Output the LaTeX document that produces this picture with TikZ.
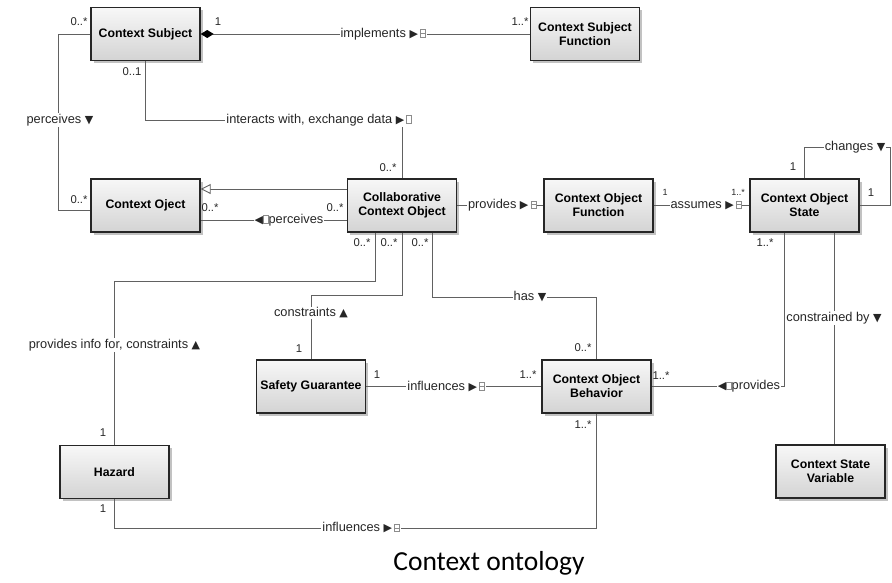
\documentclass[tikz,border=0pt]{standalone}
\usepackage{fontspec}
\setmainfont{Liberation Sans}
\newfontfamily\symfont{DejaVu Sans}
\newfontfamily\capfont{Carlito}
\usetikzlibrary{arrows.meta,shadows,calc}

% reading-direction glyphs
\newcommand\rtri{{\symfont\fontsize{11}{12}\selectfont ▶}}
\newcommand\ltri{{\symfont\fontsize{11}{12}\selectfont ◀}}
\newcommand\dtri{{\symfont\fontsize{11}{12}\selectfont ▼}}
\newcommand\utri{{\symfont\fontsize{11}{12}\selectfont ▲}}
% small navigation box drawn after the direction marker
\newcommand\navbox{\tikz[baseline=-0.5pt]\draw[black!45,line width=0.4pt] (0,0) rectangle (5pt,7.5pt);}
\newcommand\navboxm{\tikz[baseline=-0.5pt]{\draw[black!45,line width=0.4pt] (0,0) rectangle (5pt,7.5pt);\draw[black!45,line width=0.4pt] (0,3.75pt) -- (5pt,3.75pt);}}

\tikzset{
  umlclass/.style={draw=black!85, line width=1.4pt,
    top color=white!97!black, bottom color=black!17,
    minimum width=109pt, minimum height=53pt, align=center, inner sep=1pt,
    font=\fontsize{12.3}{14}\selectfont\bfseries,
    drop shadow={shadow xshift=2.5pt, shadow yshift=-2.5pt, fill=black!40, opacity=0.6}},
  assoc/.style={draw=black!62, line width=0.9pt},
  rolename/.style={fill=white, inner sep=1pt, text=black!85,
    font=\fontsize{12.8}{14}\selectfont},
  mult/.style={inner sep=0pt, text=black!85, font=\fontsize{11.3}{12}\selectfont},
  multsmall/.style={inner sep=0pt, text=black!85, font=\fontsize{9}{10}\selectfont},
}

\begin{document}
\begin{tikzpicture}[x=1pt,y=-1pt]
\useasboundingbox (0,0) rectangle (892,582);

% classes
\node[umlclass] (cs)  at (145.5,34)    {Context Subject};
\node[umlclass] (csf) at (585,34)      {Context Subject\\Function};
\node[umlclass] (co)  at (145.5,205.5) {Context Oject};
\node[umlclass] (cco) at (402,205.5)   {Collaborative\\Context Object};
\node[umlclass] (cof) at (598.5,205.5) {Context Object\\Function};
\node[umlclass] (cos) at (804.5,205.5) {Context Object\\State};
\node[umlclass] (sg)  at (311,386.5)   {Safety Guarantee};
\node[umlclass] (cob) at (596.5,386.5) {Context Object\\Behavior};
\node[umlclass] (hz)  at (114.5,472)   {Hazard};
\node[umlclass] (csv) at (830.5,471.5) {Context State\\Variable};

% routing helpers
\coordinate (yInt)  at (0,120);
\coordinate (yGen)  at (0,189);
\coordinate (yPer)  at (0,220);
\coordinate (yTop)  at (0,147);
\coordinate (xLoop) at (890,0);
\coordinate (xCP)   at (784,0);
\coordinate (xCV)   at (834,0);
\coordinate (xH)    at (375,0);
\coordinate (yH)    at (0,281);
\coordinate (ySGb)  at (0,295);
\coordinate (xHas)  at (432,0);
\coordinate (yHas)  at (0,297);
\coordinate (yInf)  at (0,528);

% associations
\draw[assoc, {Diamond[length=13pt,width=8pt,color=black]}-] (cs.east) -- (csf.west);
\draw[assoc] (cs.south) |- (cco.north |- yInt) -- (cco.north);
\draw[assoc] (cs.west) -- ++(-32,0) |- ($(co.west)+(0,5)$);
\draw[assoc, -{Triangle[open,length=10pt,width=10pt,fill=white]}] (cco.west |- yGen) -- (co.east |- yGen);
\draw[assoc] (cco.west |- yPer) -- (co.east |- yPer);
\draw[assoc] (cco.east) -- (cof.west);
\draw[assoc] (cof.east) -- (cos.west);
\draw[assoc] (cos.north) -- (cos.north |- yTop) -| (xLoop |- cos.east) -- (cos.east);
\draw[assoc] (cos.south -| xCP) |- (cob.east);
\draw[assoc] (cos.south -| xCV) -- (csv.north -| xCV);
\draw[assoc] (cco.south -| xH) |- (hz.north |- yH) -- (hz.north);
\draw[assoc] (cco.south) |- (sg.north |- ySGb) -- (sg.north);
\draw[assoc] (cco.south -| xHas) |- (cob.north |- yHas) -- (cob.north);
\draw[assoc] (sg.east) -- (cob.west);
\draw[assoc] (hz.south) |- (cob.south |- yInf) -- (cob.south);

% association names
\node[rolename] (lImpl) at (383,34) {implements \rtri\,\navboxm};
\node[rolename, anchor=east] (lInt) at (413,120) {interacts with, exchange data \rtri\,\navbox};
\node[rolename] (lPer) at (60,120) {perceives \dtri};
\node[rolename] (lPer2) at (289,220) {\ltri\navbox perceives};
\node[rolename] (lProv) at (502,205.5) {provides \rtri\,\navboxm};
\node[rolename] (lAss) at (706,205.5) {assumes \rtri\,\navboxm};
\node[rolename] (lChg) at (855,147) {changes \dtri};
\node[rolename] (lProv2) at (749,386.5) {\ltri\navbox provides};
\node[rolename] (lCon) at (834,318) {constrained by \dtri};
\node[rolename] (lPif) at (114.5,345) {provides info for, constraints \utri};
\node[rolename] (lCons) at (311,313) {constraints \utri};
\node[rolename] (lHas) at (530,297) {has \dtri};
\node[rolename] (lInf1) at (446,386.5) {influences \rtri\,\navboxm};
\node[rolename] (lInf2) at (361,528) {influences \rtri\,\navboxm};

% multiplicities
\node[mult] (m1)  at (218,22)  {1};
\node[mult] (m2)  at (520,22)  {1..*};
\node[mult] (m3)  at (132,72)  {0..1};
\node[mult] (m4)  at (388,168) {0..*};
\node[mult] (m5)  at (79,22)   {0..*};
\node[mult] (m6)  at (79,200)  {0..*};
\node[mult] (m7)  at (210,208) {0..*};
\node[mult] (m8)  at (335,208) {0..*};
\node[multsmall] (m9)  at (665,192) {1};
\node[multsmall] (m10) at (738,192) {1..*};
\node[mult] (m11) at (793,167) {1};
\node[mult] (m12) at (871,193) {1};
\node[mult] (m13) at (765,243) {1..*};
\node[mult] (m14) at (661,376) {1..*};
\node[mult] (m15) at (362,243) {0..*};
\node[mult] (m16) at (389,243) {0..*};
\node[mult] (m17) at (420,243) {0..*};
\node[mult] (m18) at (103,433) {1};
\node[mult] (m19) at (299,349) {1};
\node[mult] (m20) at (583,348) {0..*};
\node[mult] (m21) at (377,375) {1};
\node[mult] (m22) at (528,375) {1..*};
\node[mult] (m23) at (103,509) {1};
\node[mult] (m24) at (583,425) {1..*};

% caption
\node[font=\capfont\fontsize{27.5}{32}\selectfont, inner sep=0pt] (cap) at (489,563) {Context ontology};
\end{tikzpicture}
\end{document}
